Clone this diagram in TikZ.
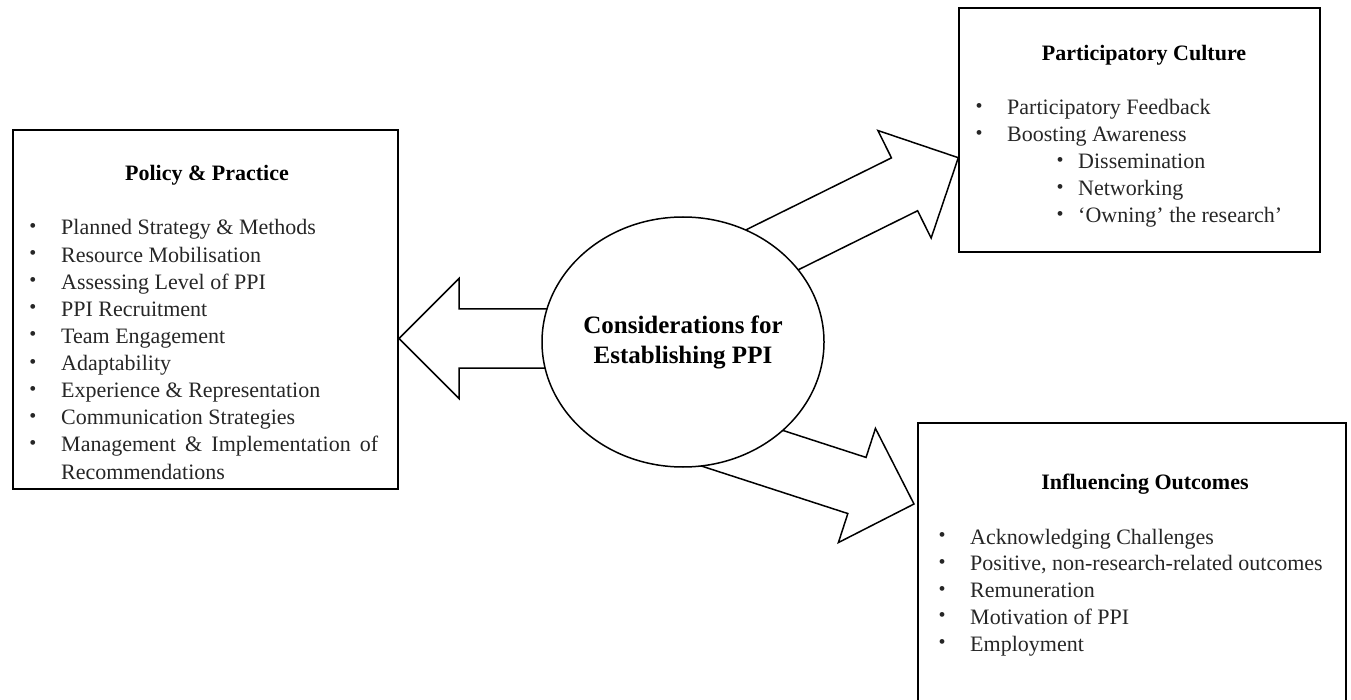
\documentclass[tikz,border=0pt]{standalone}
\usepackage{fontspec}
\setmainfont{Liberation Serif}
\usetikzlibrary{positioning}
\usetikzlibrary{calc}
\usetikzlibrary{shapes.geometric}

\newcommand{\fatarrow}[2]{%
 \coordinate (#2base) at ($(#2)!60pt!(#1)$);
 \draw[fat] ($(#1)!29.5pt!90:(#2)$)--($(#2base)!29.5pt!-90:(#1)$)--($(#2base)!60pt!-90:(#1)$)--(#2)
  --($(#2base)!60pt!90:(#1)$)--($(#2base)!29.5pt!90:(#1)$)--($(#1)!29.5pt!-90:(#2)$)--cycle;}

\begin{document}
\begin{tikzpicture}[x=1pt,y=-1pt,
 box/.style={draw,line width=2pt,inner sep=0pt},
 fat/.style={draw,fill=white,line width=1.5pt,line join=miter},
 head/.style={font=\fontsize{22}{27}\selectfont\bfseries,inner sep=0pt,anchor=base},
 entry/.style={font=\fontsize{22}{27}\selectfont,text=black!85,inner sep=0pt,anchor=base west},
 dot/.style={font=\fontsize{20}{24}\selectfont,text=black!85,inner sep=0pt,anchor=center}]
 \useasboundingbox (0,0) rectangle (1351,700);
 \node[box,minimum width=385pt,minimum height=359pt] (policy) at (205.5,309.5) {};
 \node[box,minimum width=361pt,minimum height=244pt] (culture) at (1139.5,130) {};
 \node[box,minimum width=428pt,minimum height=300pt] (outcomes) at (1132,573) {};
 \coordinate (tailL) at (600,338.5);
 \coordinate (tipL) at (399,338.5);
 \coordinate (tailUR) at (698,286.5);
 \coordinate (tipUR) at (958.3,157.7);
 \coordinate (tailLR) at (657,420.6);
 \coordinate (tipLR) at (914,504);
 \fatarrow{tailL}{tipL}
 \fatarrow{tailUR}{tipUR}
 \fatarrow{tailLR}{tipLR}
 \node[ellipse,draw,fill=white,line width=1.5pt,minimum width=282pt,minimum height=250pt,inner sep=0pt,
  align=center,font=\fontsize{25}{30}\selectfont\bfseries] (core) at (683,342) {Considerations for\\Establishing PPI};
 \node[head] (policytitle) at (207,181) {Policy \& Practice};
 \foreach \txt [count=\i from 0] in {Planned Strategy \& Methods, Resource Mobilisation, Assessing Level of PPI,
  PPI Recruitment, Team Engagement, Adaptability, Experience \& Representation, Communication Strategies,
  \makebox[317pt][s]{Management \& Implementation of}}
 {\node[dot] (policydot\i) at (33,228+27.1*\i) {\textbullet};
  \node[entry] (policyitem\i) at (61,235+27.1*\i) {\txt};}
 \node[entry] (policyitem9) at (61,479) {Recommendations};
 \node[head] (culturetitle) at (1144,61) {Participatory Culture};
 \node[dot] (culturedot0) at (979,108) {\textbullet};
 \node[entry] (cultureitem0) at (1007,115) {Participatory Feedback};
 \node[dot] (culturedot1) at (979,135) {\textbullet};
 \node[entry] (cultureitem1) at (1007,142) {Boosting Awareness};
 \foreach \txt [count=\i from 0] in {Dissemination, Networking, `Owning' the research'}
 {\node[dot] (culturesub\i) at (1060,162+27*\i) {\textbullet};
  \node[entry] (culturesubitem\i) at (1078,169+27*\i) {\txt};}
 \node[head] (outcomestitle) at (1145,489) {Influencing Outcomes};
 \foreach \txt [count=\i from 0] in {Acknowledging Challenges, {Positive, non-research-related outcomes},
  Remuneration, Motivation of PPI, Employment}
 {\node[dot] (outcomesdot\i) at (942,537+26.75*\i) {\textbullet};
  \node[entry] (outcomesitem\i) at (970,544+26.75*\i) {\txt};}
\end{tikzpicture}
\end{document}
